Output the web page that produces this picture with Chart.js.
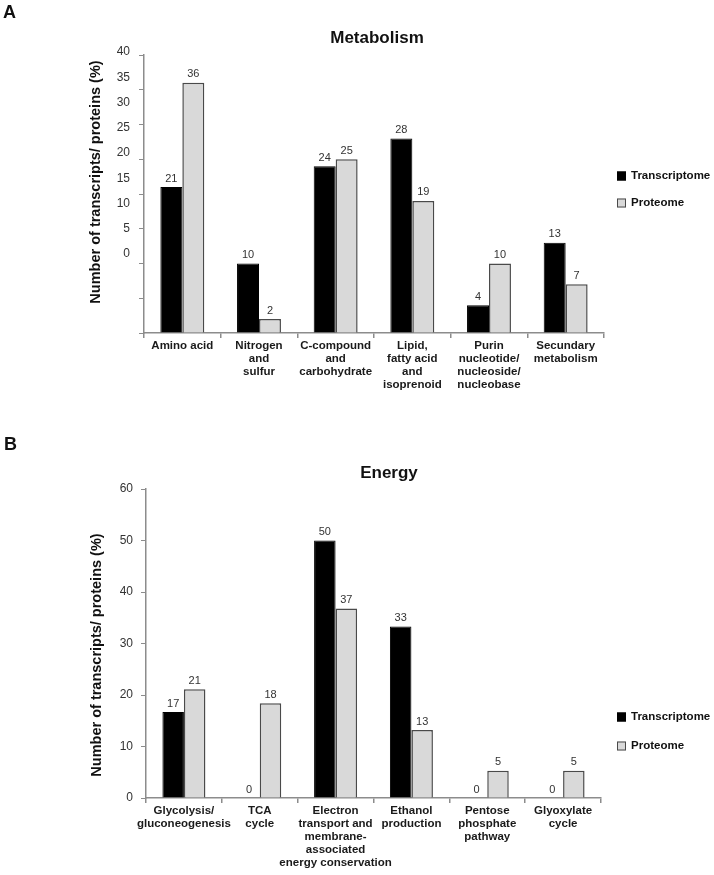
<!DOCTYPE html>
<html lang="en">
<head>
<meta charset="UTF-8">
<title>Metabolism / Energy</title>
<script src="https://cdn.jsdelivr.net/npm/chart.js"></script>
<style>
  body { margin: 0; background: #fff; }
  canvas { display: block; }
</style>
</head>
<body>
<canvas id="chartA" width="714" height="400"></canvas>
<canvas id="chartB" width="714" height="475"></canvas>
<script>
const seriesNames = ['Transcriptome', 'Proteome'];
const yTitle = 'Number of transcripts/ proteins (%)';

// panel A
const metabolismCategories = [
  ['Amino acid'],
  ['Nitrogen', 'and', 'sulfur'],
  ['C-compound', 'and', 'carbohydrate'],
  ['Lipid,', 'fatty acid', 'and', 'isoprenoid'],
  ['Purin', 'nucleotide/', 'nucleoside/', 'nucleobase'],
  ['Secundary', 'metabolism']
];
const metabolismTranscriptome = [21, 10, 24, 28, 4, 13];
const metabolismProteome = [36, 2, 25, 19, 10, 7];
const metabolismTicks = [0, 5, 10, 15, 20, 25, 30, 35, 40];

// panel B
const energyCategories = [
  ['Glycolysis/', 'gluconeogenesis'],
  ['TCA', 'cycle'],
  ['Electron', 'transport and', 'membrane-', 'associated', 'energy conservation'],
  ['Ethanol', 'production'],
  ['Pentose', 'phosphate', 'pathway'],
  ['Glyoxylate', 'cycle']
];
const energyTranscriptome = [16.7, 0, 50, 33.3, 0, 0];
const energyProteome = [21.1, 18.4, 36.8, 13.2, 5.3, 5.3];
const energyTicks = [0, 10, 20, 30, 40, 50, 60];

const FONT = '"Liberation Sans", Arial, sans-serif';
const AXIS = '#8c8c8c';
const TXT = '#333';

// text around the plot: letter, title, y title, legend, value labels
const decor = {
  id: 'decor',
  afterDatasetsDraw(chart) {
    const ctx = chart.ctx;
    ctx.save();
    ctx.font = '11px ' + FONT;
    ctx.fillStyle = TXT;
    ctx.textAlign = 'center';
    ctx.textBaseline = 'bottom';
    chart.data.datasets.forEach((ds, i) => {
      chart.getDatasetMeta(i).data.forEach((bar, j) => {
        ctx.fillText(String(Math.round(ds.data[j])), bar.x, bar.y - 3);
      });
    });
    ctx.restore();
  },
  afterDraw(chart, args, o) {
    const ctx = chart.ctx;
    ctx.save();
    ctx.fillStyle = '#111';
    ctx.font = 'bold 18px ' + FONT;
    ctx.textAlign = 'left';
    ctx.textBaseline = 'alphabetic';
    ctx.fillText(o.letter, o.letterX, o.letterY);
    ctx.font = 'bold 17px ' + FONT;
    ctx.textAlign = 'center';
    ctx.fillText(o.title, o.titleX, o.titleY);

    ctx.save();
    ctx.translate(o.yTitleX, o.yTitleY);
    ctx.rotate(-Math.PI / 2);
    ctx.font = 'bold 14.5px ' + FONT;
    ctx.textBaseline = 'middle';
    ctx.fillText(yTitle, 0, 0);
    ctx.restore();

    // legend
    ctx.font = 'bold 11.5px ' + FONT;
    ctx.textAlign = 'left';
    ctx.textBaseline = 'middle';
    chart.data.datasets.forEach((ds, i) => {
      const y = o.legendY[i];
      ctx.fillStyle = ds.backgroundColor;
      ctx.fillRect(617, y - 4.5, 9, 9);
      ctx.strokeStyle = ds.borderColor;
      ctx.lineWidth = 1;
      ctx.strokeRect(617.5, y - 4, 8, 8);
      ctx.fillStyle = '#111';
      ctx.fillText(ds.label, 631, y);
    });
    ctx.restore();
  }
};

function datasets(t, p) {
  return [
    { label: seriesNames[0], data: t, backgroundColor: '#000', borderColor: '#000', borderWidth: 1 },
    { label: seriesNames[1], data: p, backgroundColor: '#d9d9d9', borderColor: '#4a4a4a', borderWidth: 1.5 }
  ];
}

function xScale(h) {
  return {
    offset: true,
    grid: { offset: true, drawOnChartArea: false, tickLength: 5, color: AXIS, lineWidth: 1.5 },
    border: { color: AXIS, width: 1.5 },
    ticks: { font: { family: FONT, size: 11.5, weight: 'bold', lineHeight: 1.13 }, color: '#1a1a1a',
             padding: 1, maxRotation: 0, minRotation: 0, autoSkip: false },
    afterFit: s => { s.height = h; }
  };
}

// A: the tick marks follow the bars, the printed numbers sit on their own (shifted) axis
new Chart(document.getElementById('chartA'), {
  type: 'bar',
  data: { labels: metabolismCategories, datasets: datasets(metabolismTranscriptome, metabolismProteome) },
  options: {
    responsive: false,
    animation: false,
    categoryPercentage: 0.573,
    barPercentage: 1,
    layout: { padding: { top: 55, right: 110, left: 0, bottom: 0 } },
    plugins: {
      legend: { display: false },
      tooltip: { enabled: false },
      decor: { letter: 'A', letterX: 3, letterY: 18, title: 'Metabolism', titleX: 377, titleY: 43,
               yTitleX: 96, yTitleY: 182, legendY: [176, 203] }
    },
    scales: {
      x: xScale(67),
      y: {
        min: 0, max: 40, weight: 0,
        ticks: { display: false, stepSize: 5 },
        grid: { drawOnChartArea: false, tickLength: 5, color: AXIS, lineWidth: 1 },
        border: { color: AXIS, width: 1.5 },
        afterFit: s => { s.width = 5; }
      },
      yl: {
        position: 'left', min: -15, max: 40, weight: 1,
        grid: { display: false }, border: { display: false },
        ticks: { stepSize: 5, padding: 1, labelOffset: -3, color: TXT, font: { family: FONT, size: 12 },
                 callback: v => metabolismTicks.includes(v) ? String(v) : '' },
        afterFit: s => { s.width = 139; }
      }
    }
  },
  plugins: [decor]
});

new Chart(document.getElementById('chartB'), {
  type: 'bar',
  data: { labels: energyCategories, datasets: datasets(energyTranscriptome, energyProteome) },
  options: {
    responsive: false,
    animation: false,
    categoryPercentage: 0.567,
    barPercentage: 1,
    layout: { padding: { top: 89, right: 113, left: 0, bottom: 0 } },
    plugins: {
      legend: { display: false },
      tooltip: { enabled: false },
      decor: { letter: 'B', letterX: 4, letterY: 50, title: 'Energy', titleX: 389, titleY: 78,
               yTitleX: 97, yTitleY: 255, legendY: [317, 346] }
    },
    scales: {
      x: xScale(77),
      y: {
        min: 0, max: 60,
        ticks: { stepSize: 10, padding: 8, color: TXT, font: { family: FONT, size: 12 },
                 callback: v => energyTicks.includes(v) ? String(v) : '' },
        grid: { drawOnChartArea: false, tickLength: 5, color: AXIS, lineWidth: 1 },
        border: { color: AXIS, width: 1.5 },
        afterFit: s => { s.width = 146; }
      }
    }
  },
  plugins: [decor]
});
</script>
</body>
</html>
